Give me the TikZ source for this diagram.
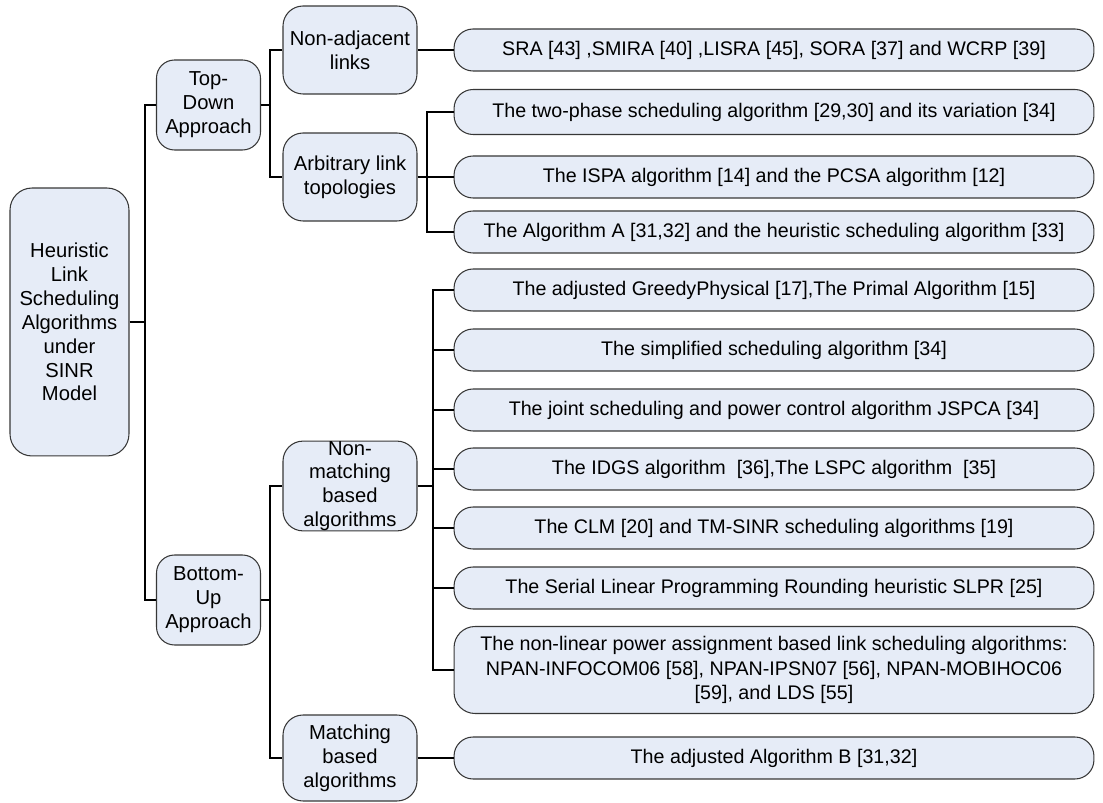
\documentclass[tikz,border=0pt]{standalone}
\usepackage{fontspec}
\setmainfont{Liberation Sans}
\definecolor{boxfill}{RGB}{230,236,247}
\definecolor{boxline}{RGB}{55,55,55}
\begin{document}
\begin{tikzpicture}[x=0.02cm,y=-0.02cm,
  base/.style={draw=boxline,fill=boxfill,line width=0.6pt,inner sep=0pt,align=center,
    font=\fontsize{11.5}{13.6}\selectfont},
  rootbox/.style={base,minimum width=2.38cm,minimum height=5.36cm,rounded corners=0.44cm},
  apbox/.style={base,minimum width=2.08cm,minimum height=1.8cm,rounded corners=0.36cm},
  midbox/.style={base,minimum width=2.68cm,minimum height=1.76cm,rounded corners=0.4cm},
  leafbox/.style={base,minimum width=12.8cm,minimum height=0.84cm,rounded corners=0.38cm,
    font=\fontsize{11.2}{13.9}\selectfont},
  bigleaf/.style={leafbox,minimum height=1.74cm,rounded corners=0.42cm},
  conn/.style={draw=black,line width=0.6pt}]
\useasboundingbox (0,0) rectangle (1103,803);

\node[rootbox] (root) at (69.5,322) {Heuristic\\Link\\Scheduling\\Algorithms\\under\\SINR\\Model};
\node[apbox] (td) at (208.5,105) {Top-\\Down\\Approach};
\node[apbox] (bu) at (208.5,600) {Bottom-\\Up\\Approach};

\node[midbox] (na) at (350,50) {Non-adjacent\\links};
\node[midbox] (arb) at (350,177) {Arbitrary link\\topologies};
\node[midbox] (nm) at (350,486) {Non-\\matching\\based\\algorithms};
\node[midbox,minimum height=1.72cm] (mb) at (350,758) {Matching\\based\\algorithms};

\node[leafbox] (l1) at (774,50) {SRA [43] ,SMIRA [40] ,LISRA [45], SORA [37] and WCRP [39]};
\node[leafbox,minimum height=0.9cm] (l2) at (774,112) {The two-phase scheduling algorithm [29,30] and its variation [34]};
\node[leafbox] (l3) at (774,177) {The ISPA algorithm [14] and the PCSA algorithm [12]};
\node[leafbox] (l4) at (774,232) {The Algorithm A [31,32] and the heuristic scheduling algorithm [33]};
\node[leafbox] (l5) at (774,290) {The adjusted GreedyPhysical [17],The Primal Algorithm [15]};
\node[leafbox] (l6) at (774,350) {The simplified scheduling algorithm [34]};
\node[leafbox] (l7) at (774,410) {The joint scheduling and power control algorithm JSPCA [34]};
\node[leafbox] (l8) at (774,469) {The IDGS algorithm\ \ [36],The LSPC algorithm\ \ [35]};
\node[leafbox] (l9) at (774,528) {The CLM [20] and TM-SINR scheduling algorithms [19]};
\node[leafbox] (l10) at (774,588) {The Serial Linear Programming Rounding heuristic SLPR [25]};
\node[bigleaf] (l11) at (774,670) {The non-linear power assignment based link scheduling algorithms:\\NPAN-INFOCOM06 [58], NPAN-IPSN07 [56], NPAN-MOBIHOC06\\{[59], and LDS [55]}};
\node[leafbox] (l12) at (774,758) {The adjusted Algorithm B [31,32]};

\coordinate (b0) at (145,322);
\coordinate (b1) at (270,105);
\coordinate (b2) at (270,600);
\coordinate (b3) at (427,177);
\coordinate (b4) at (433,486);

\draw[conn] (root.east) -- (b0);
\draw[conn] (b0) |- (td.west);
\draw[conn] (b0) |- (bu.west);

\draw[conn] (td.east) -- (b1);
\draw[conn] (b1) |- (na.west);
\draw[conn] (b1) |- (arb.west);
\draw[conn] (na.east) -- (l1.west);
\draw[conn] (arb.east) -- (b3);
\draw[conn] (b3) |- (l2.west);
\draw[conn] (b3) -- (l3.west);
\draw[conn] (b3) |- (l4.west);

\draw[conn] (bu.east) -- (b2);
\draw[conn] (b2) |- (nm.west);
\draw[conn] (b2) |- (mb.west);
\draw[conn] (nm.east) -- (b4);
\foreach \l in {l5,l6,l7,l8,l9,l10,l11} \draw[conn] (b4) |- (\l.west);
\draw[conn] (mb.east) -- (l12.west);
\end{tikzpicture}
\end{document}
